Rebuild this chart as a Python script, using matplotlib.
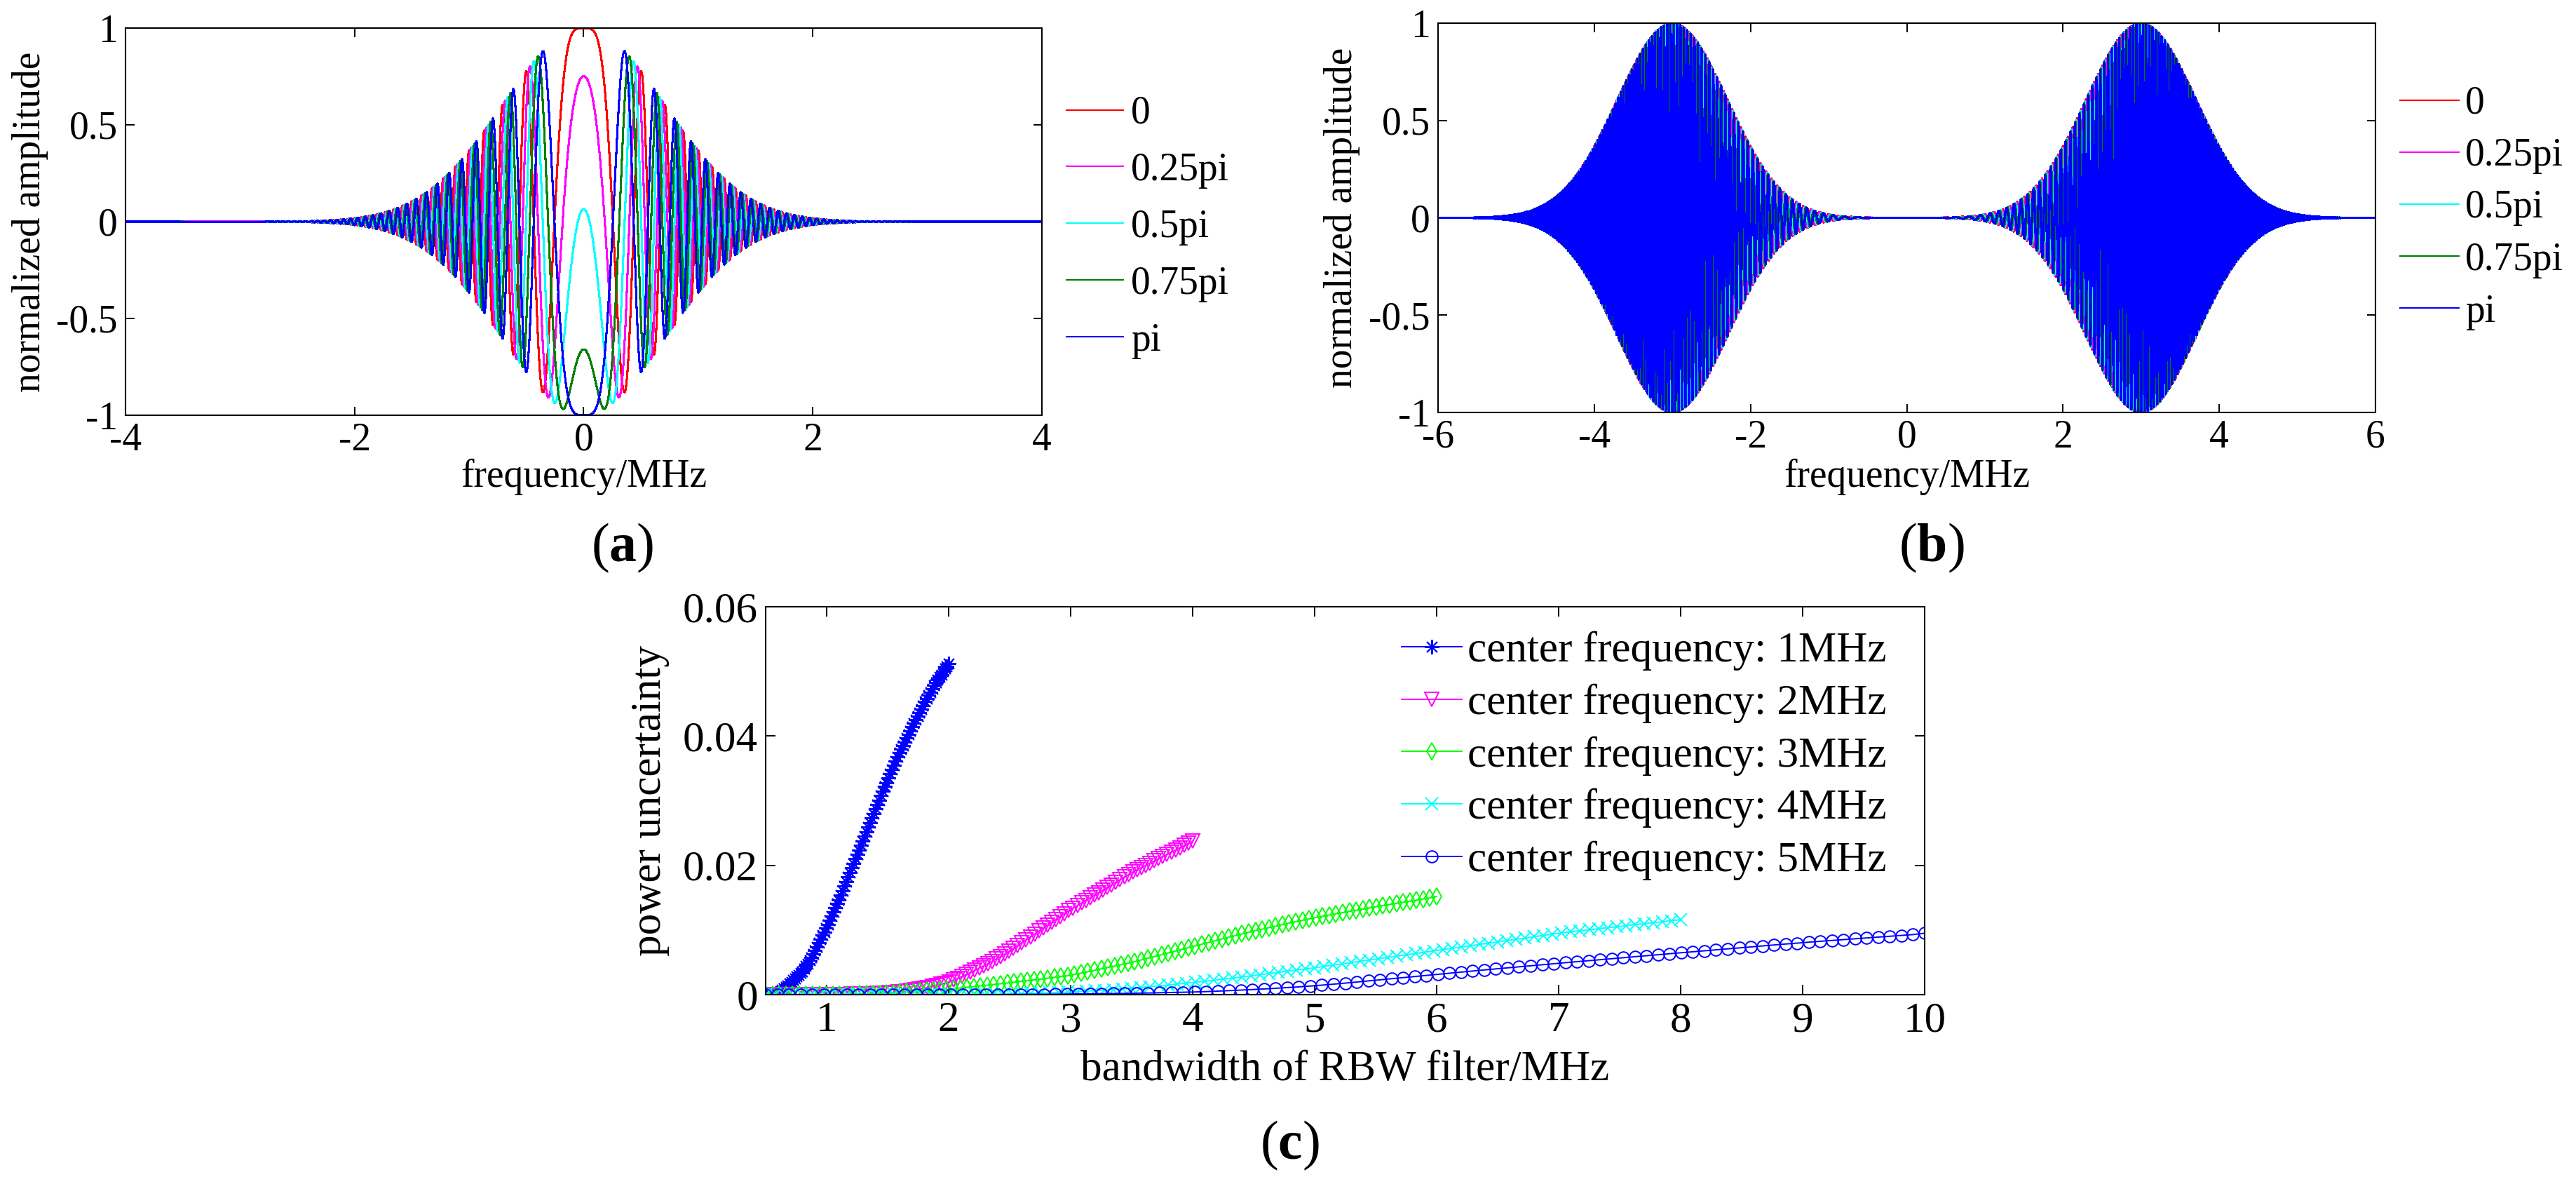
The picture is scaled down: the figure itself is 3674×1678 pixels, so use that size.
import numpy as np
import matplotlib
matplotlib.use("Agg")
import matplotlib.pyplot as plt
from matplotlib.ticker import FuncFormatter

plt.rcParams["font.family"] = "serif"
plt.rcParams["font.serif"] = ["Liberation Serif", "DejaVu Serif"]
plt.rcParams["mathtext.fontset"] = "custom"
plt.rcParams["mathtext.rm"] = "Liberation Serif"
plt.rcParams["mathtext.bf"] = "Liberation Serif:bold"
plt.rcParams["axes.unicode_minus"] = False

# (a) and (b): chirped pulses, parameters
phase_labels = ["0", "0.25pi", "0.5pi", "0.75pi", "pi"]
phase_pi = [0.0, 0.25, 0.5, 0.75, 1.0]
phase_colors = ["#ff0000", "#ff00ff", "#00ffff", "#008000", "#0000ff"]
chirp_rate = 25.1        # rad/MHz^2, from the peak positions in (a)
phase_shift = -0.065     # values at f=0 sit a bit off cos(phi)
pulse_width = 1.0        # MHz, 1/e half width of the envelope
pulse_centers_b = [-3.0, 3.0]

# (c): power uncertainty vs RBW bandwidth, x runs 0.5 .. 2*fc
center_freqs = [1, 2, 3, 4, 5]
unc_1mhz = [
    0, 0.00002, 0.00005, 0.00008, 0.00011, 0.00015, 0.0002,
    0.00035, 0.00053, 0.00073, 0.00095, 0.00118, 0.00143, 0.0017,
    0.00196, 0.00223, 0.0025, 0.00277, 0.00304, 0.00332, 0.0036,
    0.0040, 0.0044, 0.0048, 0.0053, 0.0058, 0.0063, 0.0068,
    0.0074, 0.0080, 0.0086, 0.0092, 0.0097, 0.0103,
    0.0109, 0.0115, 0.0122, 0.0128, 0.0134, 0.0141, 0.0147,
    0.0154, 0.0161, 0.0168, 0.0175, 0.0182, 0.0189, 0.0196,
    0.0203, 0.0210, 0.0217, 0.0224, 0.0231, 0.0238, 0.0245,
    0.0252, 0.0259, 0.0266, 0.0273, 0.0280, 0.0287,
    0.0294, 0.0301, 0.0308, 0.0315, 0.0322, 0.0328, 0.0335,
    0.0342, 0.0348, 0.0355, 0.0361, 0.0368, 0.0374,
    0.0380, 0.0385, 0.0391, 0.0397, 0.0403, 0.0408, 0.0414,
    0.0420, 0.0425, 0.0431, 0.0436, 0.0442, 0.0447, 0.0453,
    0.0458, 0.0463, 0.0468, 0.0473, 0.0478, 0.0483,
    0.0487, 0.0491, 0.0495, 0.0500, 0.0504, 0.0508, 0.0512,
]
unc_2mhz = [
    0, 0, 0, 0, 0, 0, 0, 0, 0, 0, 0, 0, 0, 0, 0,
    0.00001, 0.00002, 0.00003, 0.00004, 0.00005, 0.00006, 0.00008, 0.0001,
    0.00012, 0.00014, 0.00016, 0.00019, 0.00022, 0.00026, 0.0003,
    0.00035, 0.00041, 0.00048, 0.00056, 0.00065, 0.00075, 0.00086, 0.00098,
    0.00111, 0.00125, 0.0014, 0.00158, 0.00178, 0.002,
    0.00226, 0.00254, 0.00283, 0.00313, 0.00344, 0.00376, 0.00409,
    0.00443, 0.00478, 0.00514, 0.00551, 0.00589, 0.00628, 0.00668,
    0.00713, 0.00758, 0.00803, 0.00848, 0.00893, 0.00938, 0.00983,
    0.01028, 0.01073, 0.01118, 0.01163, 0.01208, 0.01253, 0.01298,
    0.01338, 0.01378, 0.01418, 0.01458, 0.01498, 0.01538, 0.01578, 0.01618,
    0.01658, 0.01698, 0.01738, 0.01778, 0.01818, 0.01858, 0.01898,
    0.01932, 0.01966, 0.02000, 0.02034, 0.02068, 0.02102, 0.02136,
    0.0217, 0.02204, 0.02238, 0.02272, 0.02306, 0.0234, 0.02374,
]
unc_3mhz = [
    0, 0, 0, 0, 0, 0, 0, 0.00001, 0.00001, 0.00002,
    0.00002, 0.00003, 0.00004, 0.00005, 0.00007, 0.00009, 0.00012, 0.00016, 0.0002,
    0.00026, 0.00032, 0.00039, 0.00046, 0.00053, 0.0006, 0.00067, 0.00074, 0.00081,
    0.00091, 0.00102, 0.00113, 0.00124, 0.00135, 0.00146, 0.00157, 0.00168, 0.0018,
    0.00192, 0.00204, 0.00216, 0.00228, 0.0024, 0.00253, 0.00266, 0.00279, 0.00292,
    0.00312, 0.00333, 0.00354, 0.00376, 0.00398, 0.0042, 0.00442, 0.00464, 0.00487, 0.0051,
    0.00537, 0.00564, 0.00591, 0.00618, 0.00645, 0.00672, 0.00699, 0.00726, 0.00753,
    0.0078, 0.00807, 0.00834, 0.00861, 0.00887, 0.00913, 0.00939, 0.00965, 0.0099,
    0.01013, 0.01036, 0.01059, 0.01082, 0.01105, 0.01128, 0.0115, 0.01172, 0.01193,
    0.01212, 0.01231, 0.0125, 0.01269, 0.01288, 0.01306, 0.01324, 0.01342, 0.0136,
    0.01377, 0.01394, 0.01411, 0.01428, 0.01445, 0.01462, 0.01479, 0.01496, 0.0152,
]
unc_4mhz = [
    0, 0, 0, 0, 0, 0, 0, 0, 0, 0,
    0, 0, 0, 0, 0, 0, 0, 0, 0, 0,
    0, 0.00001, 0.00002, 0.00003, 0.00005, 0.00007, 0.00009, 0.00011, 0.00015, 0.00019,
    0.00023, 0.00028, 0.00033, 0.00039, 0.00045, 0.00053, 0.00061, 0.0007, 0.00079, 0.00089,
    0.00099, 0.00111, 0.00123, 0.00136, 0.00149, 0.00163, 0.00177, 0.00191, 0.00207, 0.00223,
    0.00239, 0.00256, 0.00273, 0.0029, 0.00308, 0.00326, 0.00344, 0.00362, 0.0038, 0.00398,
    0.00416, 0.00436, 0.00456, 0.00476, 0.00496, 0.00516, 0.00536, 0.00556, 0.00576, 0.00596,
    0.00616, 0.00636, 0.00656, 0.00676, 0.00696, 0.00716, 0.00736, 0.00756, 0.00776, 0.00796,
    0.00816, 0.00836, 0.00856, 0.00876, 0.00896, 0.00916, 0.00936, 0.00956, 0.00972, 0.00988,
    0.01004, 0.0102, 0.01035, 0.0105, 0.01066, 0.01082, 0.01097, 0.01112, 0.01128, 0.01144,
    0.0116,
]
unc_5mhz = [
    0, 0, 0, 0, 0, 0, 0, 0, 0, 0,
    0, 0, 0, 0, 0, 0, 0, 0, 0, 0,
    0, 0.00002, 0.00003, 0.00004, 0.00005, 0.00007, 0.00009, 0.00011, 0.00013, 0.00015,
    0.00017, 0.00019, 0.00022, 0.00025, 0.00029, 0.00033, 0.00037, 0.00041, 0.00047, 0.00054,
    0.00062, 0.0007, 0.00079, 0.00088, 0.00098, 0.00109, 0.0012, 0.00133, 0.00147, 0.00162,
    0.00178, 0.00195, 0.00212, 0.00229, 0.00246, 0.00263, 0.0028, 0.00297, 0.00314, 0.00331,
    0.00348, 0.00365, 0.00382, 0.00398, 0.00414, 0.0043, 0.00446, 0.00462, 0.00478, 0.00494,
    0.0051, 0.00525, 0.0054, 0.00556, 0.00571, 0.00587, 0.00602, 0.00617, 0.00633, 0.00648,
    0.00663, 0.00678, 0.00693, 0.00708, 0.00723, 0.00738, 0.00753, 0.00768, 0.00783, 0.00797,
    0.00811, 0.00825, 0.00838, 0.00851, 0.00864, 0.00877, 0.0089, 0.00903, 0.00916, 0.00929,
    0.0095,
]
unc_series = [unc_1mhz, unc_2mhz, unc_3mhz, unc_4mhz, unc_5mhz]
unc_labels = ["center frequency: %dMHz" % f for f in center_freqs]
unc_colors = ["#0000ff", "#ff00ff", "#00ff00", "#00ffff", "#0000ff"]
unc_markers = [(8, 2, 0), "v", "d", "x", "o"]
unc_msize = [15, 14, 12, 13, 12]

W, H = 3674, 1678
fig = plt.figure(figsize=(W / 100, H / 100), dpi=100)


def box(l, t, r, b):
    return [l / W, 1 - b / H, (r - l) / W, (b - t) / H]


def style(ax, fs, tl):
    ax.tick_params(direction="in", top=True, right=True, length=tl, width=1.4,
                   labelsize=fs)
    ax.tick_params(axis="x", pad=7)
    ax.tick_params(axis="y", pad=8)
    for s in ax.spines.values():
        s.set_linewidth(1.5)
    fmt = FuncFormatter(lambda v, p: "%g" % v)
    ax.xaxis.set_major_formatter(fmt)
    ax.yaxis.set_major_formatter(fmt)


def pulse(f, centers):
    env = np.zeros_like(f)
    for c in centers:
        env += np.exp(-((f - c) / pulse_width) ** 2)
    return env


ax_a = fig.add_axes(box(179, 40, 1486, 592))
ax_b = fig.add_axes(box(2051, 33, 3388, 588))
ax_c = fig.add_axes(box(1092, 865, 2745, 1418))

f_a = np.linspace(-4, 4, 8001)
f_b = np.linspace(-6, 6, 24001)
env_a = pulse(f_a, [0.0])
env_b = pulse(f_b, pulse_centers_b)
for ph, col, lab in zip(phase_pi, phase_colors, phase_labels):
    y_a = env_a * np.cos(chirp_rate * f_a ** 2 + ph * np.pi + phase_shift)
    y_b = env_b * np.cos(chirp_rate * f_b ** 2 + ph * np.pi + phase_shift)
    ax_a.plot(f_a, y_a, color=col, lw=1.5, label=lab, antialiased=False)
    ax_b.plot(f_b, y_b, color=col, lw=1.6, label=lab, antialiased=False)

for ax, lim, ticks in [(ax_a, 4, [-4, -2, 0, 2, 4]),
                       (ax_b, 6, [-6, -4, -2, 0, 2, 4, 6])]:
    ax.set_xlim(-lim, lim)
    ax.set_ylim(-1, 1)
    ax.set_xticks(ticks)
    ax.set_yticks([-1, -0.5, 0, 0.5, 1])
    style(ax, 40, 9)
    ax.set_xlabel("frequency/MHz", fontsize=40)
    ax.set_ylabel("normalized amplitude", fontsize=40)

ax_a.xaxis.set_label_coords(0.5, -0.112)
ax_a.yaxis.set_label_coords(-0.084, 0.5)
ax_b.xaxis.set_label_coords(0.5, -0.118)
ax_b.yaxis.set_label_coords(-0.083, 0.5)

ax_a.legend(loc="upper left", bbox_to_anchor=(1521 / W, 1 - 136 / H),
            bbox_transform=fig.transFigure, frameon=False, fontsize=40,
            handlelength=1.46, handletextpad=0.2, labelspacing=0.52,
            borderpad=0, borderaxespad=0)
ax_b.legend(loc="upper left", bbox_to_anchor=(3423 / W, 1 - 122 / H),
            bbox_transform=fig.transFigure, frameon=False, fontsize=40,
            handlelength=1.52, handletextpad=0.15, labelspacing=0.4,
            borderpad=0, borderaxespad=0)

for fc, vals, lab, col, mk, ms in zip(center_freqs, unc_series, unc_labels,
                                      unc_colors, unc_markers, unc_msize):
    x = np.linspace(0.5, 2 * fc, len(vals))
    ax_c.plot(x, vals, color=col, lw=1.4, marker=mk, ms=ms, mfc="none",
              mec=col, mew=1.4, label=lab)

ax_c.set_xlim(0.5, 10)
ax_c.set_ylim(0, 0.06)
ax_c.set_xticks(range(1, 11))
ax_c.set_yticks([0, 0.02, 0.04, 0.06])
style(ax_c, 44, 10)
ax_c.set_xlabel("bandwidth of RBW filter/MHz", fontsize=44)
ax_c.set_ylabel("power uncertainty", fontsize=44)
ax_c.xaxis.set_label_coords(0.5, -0.144)
ax_c.yaxis.set_label_coords(-0.083, 0.5)
ax_c.legend(loc="upper left", bbox_to_anchor=(1999 / W, 1 - 900 / H),
            bbox_transform=fig.transFigure, frameon=False, fontsize=44,
            handlelength=1.41, handletextpad=0.13, labelspacing=0.3,
            borderpad=0, borderaxespad=0)

for lab, xc, yb in [("a", 888, 800), ("b", 2755, 800), ("c", 1839, 1652)]:
    fig.text(xc / W, 1 - yb / H, r"($\mathbf{%s}$)" % lab, fontsize=56,
             ha="center", va="baseline")

fig.savefig("out.png", dpi=100)
